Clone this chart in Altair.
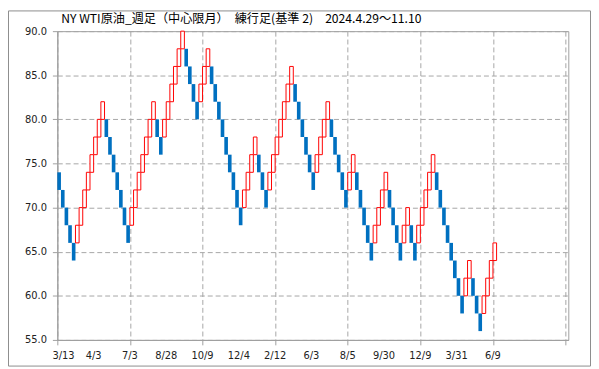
import altair as alt
import pandas as pd

# ---------------- data ----------------
title_text = "NY WTI原油_週足（中心限月）　練行足(基準 2)　2024.4.29〜11.10"
first_open = 74
brick_close = [
    72, 70, 68, 66, 64,
    68, 70, 72, 74, 76, 78, 80, 82,
    78, 76, 74, 72, 70, 68, 66,
    70, 72, 74, 76, 78, 80, 82,
    78, 76,
    80, 82, 84, 86, 88, 90,
    86, 84, 82, 80,
    84, 86, 88,
    84, 82, 80, 78, 76, 74, 72, 70, 68,
    72, 74, 76, 78,
    74, 72, 70,
    74, 76, 78, 80, 82, 84, 86,
    82, 80, 78, 76, 74, 72,
    76, 78, 80, 82,
    78, 76, 74, 72, 70,
    74, 76,
    72, 70, 68, 66, 64,
    68, 70, 72, 74,
    70, 68, 66, 64,
    68, 70,
    66, 64,
    68, 70, 72, 74, 76,
    72, 70, 68, 66, 64, 62, 60, 58,
    62, 64,
    60, 58, 56,
    60, 62, 64, 66,
]
date_labels = ["3/13", "4/3", "7/3", "8/28", "10/9", "12/4", "2/12",
               "6/3", "8/5", "9/30", "12/9", "3/31", "6/9"]
grid_slots = list(range(0, 141, 10))
y_ticks = [55, 60, 65, 70, 75, 80, 85, 90]

brick_size = 2
rows = []
prev = first_open
for i, c in enumerate(brick_close):
    up = c > prev
    rows.append({
        "slot": i, "slot2": i + 1,
        "lo": c - brick_size if up else c,
        "hi": c if up else c + brick_size,
        "dir": "up" if up else "down",
    })
    prev = c
df = pd.DataFrame(rows)

lab_df = pd.DataFrame({
    "slot": [i * 10 for i in range(len(date_labels))],
    "label": date_labels,
    "first": [i == 0 for i in range(len(date_labels))],
})

W, H = 518, 313
PAD = {"left": 50, "top": 21, "right": 23, "bottom": 27}

xs = alt.Scale(domain=[0, 140.76], nice=False, zero=False)
ys = alt.Scale(domain=[55, 90], nice=False, zero=False)

x_axis = alt.Axis(
    values=grid_slots, labels=False,
    grid=True, gridDash=[5, 3], gridColor="#a6a6a6",
    domainColor="#a0a0a0", tickColor="#a0a0a0", tickSize=5,
    title=None,
)
y_axis = alt.Axis(
    values=y_ticks, format=".1f",
    grid=True, gridDash=[5, 3], gridColor="#a6a6a6",
    domainColor="#a0a0a0", tickColor="#a0a0a0", tickSize=5,
    labelFont="DejaVu Sans", labelFontSize=10, labelColor="#222222",
    labelPadding=6, title=None,
)

base = alt.Chart(df)

down = base.transform_filter("datum.dir == 'down'").mark_rect(
    fill="#0070C0", strokeWidth=0
).encode(
    x=alt.X("slot:Q", scale=xs, axis=x_axis),
    x2="slot2:Q",
    y=alt.Y("lo:Q", scale=ys, axis=y_axis),
    y2="hi:Q",
)

up = base.transform_filter("datum.dir == 'up'").mark_rect(
    fill="white", stroke="#ff0000", strokeWidth=1
).encode(
    x=alt.X("slot:Q", scale=xs),
    x2="slot2:Q",
    y=alt.Y("lo:Q", scale=ys),
    y2="hi:Q",
)

lab_base = alt.Chart(lab_df)
xlab_first = lab_base.transform_filter("datum.first").mark_text(
    align="left", baseline="middle", font="DejaVu Sans", fontSize=10,
    color="#222222", dx=-5
).encode(x=alt.X("slot:Q", scale=xs), y=alt.value(H + 16), text="label:N")
xlab_rest = lab_base.transform_filter("!datum.first").mark_text(
    align="center", baseline="middle", font="DejaVu Sans", fontSize=10,
    color="#222222"
).encode(x=alt.X("slot:Q", scale=xs), y=alt.value(H + 16), text="label:N")

title = alt.Chart(alt.Data(values=[{"t": title_text}])).mark_text(
    align="left", baseline="alphabetic", font="Noto Sans CJK JP",
    fontSize=12.3, color="#000000"
).encode(
    x=alt.value(4), y=alt.value(-8), text="t:N"
)

frame = alt.Chart(alt.Data(values=[{}])).mark_rect(
    fill="transparent", stroke="#8c8c8c", strokeWidth=1
).encode(
    x=alt.value(-PAD["left"] + 0.5),
    x2=alt.value(W + PAD["right"] - 0.5),
    y=alt.value(-PAD["top"] + 0.5),
    y2=alt.value(H + PAD["bottom"] - 0.5),
)

chart = alt.layer(down, up, xlab_first, xlab_rest, title, frame).properties(
    width=W, height=H,
    autosize=alt.AutoSizeParams(type="none"),
    padding=PAD,
    background="white",
).configure_view(stroke="#a0a0a0", strokeWidth=1)

chart.save("out.html", embed_options={"renderer": "svg", "actions": False})
